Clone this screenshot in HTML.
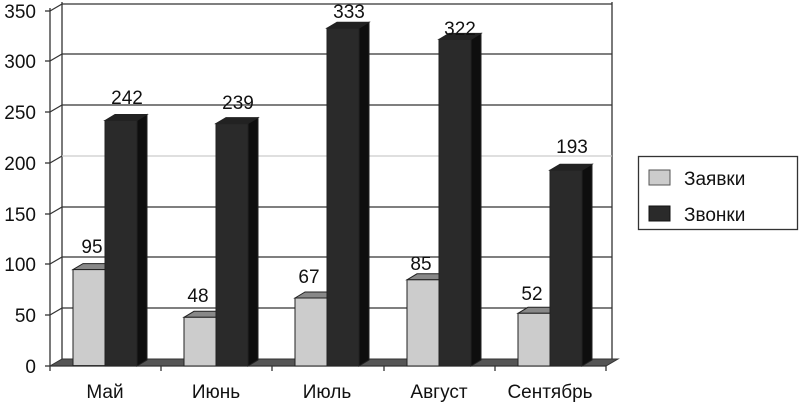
<!DOCTYPE html>
<html><head><meta charset="utf-8"><style>
html,body{margin:0;padding:0;background:#fff;}
svg{display:block;font-family:"Liberation Sans",Arial,sans-serif;}
</style></head><body>
<svg width="800" height="406" viewBox="0 0 800 406">
<g stroke="#333" stroke-width="1.3" fill="none">
<line x1="62" y1="2" x2="62" y2="359"/>
<line x1="612" y1="2" x2="612" y2="359"/>
<line x1="62" y1="4" x2="612" y2="4"/>
<line x1="62" y1="54" x2="612" y2="54"/>
<line x1="62" y1="105" x2="612" y2="105"/>
<line x1="62" y1="207" x2="612" y2="207"/>
<line x1="62" y1="257" x2="612" y2="257"/>
<line x1="62" y1="308" x2="612" y2="308"/>
<line x1="50" y1="11" x2="62" y2="4"/>
<line x1="50" y1="61" x2="62" y2="54"/>
<line x1="50" y1="112" x2="62" y2="105"/>
<line x1="50" y1="163" x2="62" y2="156"/>
<line x1="50" y1="214" x2="62" y2="207"/>
<line x1="50" y1="264" x2="62" y2="257"/>
<line x1="50" y1="315" x2="62" y2="308"/>
</g>
<line x1="62" y1="156" x2="612" y2="156" stroke="#ccc" stroke-width="1.3"/>
<polygon points="50,366 606,366 618,359 62,359" fill="#555" stroke="#333"/>
<g stroke="#333" stroke-width="1.3">
<line x1="50" y1="8" x2="50" y2="366"/>
<line x1="50" y1="366" x2="606" y2="366"/>
<line x1="45" y1="11" x2="50" y2="11"/><line x1="45" y1="61" x2="50" y2="61"/>
<line x1="45" y1="112" x2="50" y2="112"/><line x1="45" y1="163" x2="50" y2="163"/>
<line x1="45" y1="214" x2="50" y2="214"/><line x1="45" y1="264" x2="50" y2="264"/>
<line x1="45" y1="315" x2="50" y2="315"/><line x1="45" y1="366" x2="50" y2="366"/>
<line x1="50" y1="366" x2="50" y2="371"/><line x1="161" y1="366" x2="161" y2="371"/>
<line x1="272" y1="366" x2="272" y2="371"/><line x1="384" y1="366" x2="384" y2="371"/>
<line x1="495" y1="366" x2="495" y2="371"/><line x1="606" y1="366" x2="606" y2="371"/>
</g>
<g font-size="19" text-anchor="end" fill="#111">
<text x="36" y="18">350</text><text x="36" y="68">300</text><text x="36" y="119">250</text>
<text x="36" y="170">200</text><text x="36" y="221">150</text><text x="36" y="271">100</text>
<text x="36" y="322">50</text><text x="36" y="373">0</text>
</g>
<g stroke="#222" stroke-width="1">
<polygon points="73,269.6 83,263.6 115,263.6 105,269.6" fill="#888"/>
<rect x="73" y="269.6" width="32" height="96" fill="#ccc"/>
<polygon points="105,120.5 115,114.5 147,114.5 137,120.5" fill="#222"/>
<polygon points="137,120.5 147,114.5 147,360 137,366" fill="#0e0e0e"/>
<rect x="105" y="120.5" width="32" height="245.5" fill="#2a2a2a"/>
<polygon points="184,317.3 194,311.3 226,311.3 216,317.3" fill="#888"/>
<rect x="184" y="317.3" width="32" height="48.7" fill="#ccc"/>
<polygon points="216,123.6 226,117.6 258,117.6 248,123.6" fill="#222"/>
<polygon points="248,123.6 258,117.6 258,360 248,366" fill="#0e0e0e"/>
<rect x="216" y="123.6" width="32" height="242.4" fill="#2a2a2a"/>
<polygon points="295,298 305,292 337,292 327,298" fill="#888"/>
<rect x="295" y="298" width="32" height="68" fill="#ccc"/>
<polygon points="327,28.2 337,22.2 369,22.2 359,28.2" fill="#222"/>
<polygon points="359,28.2 369,22.2 369,360 359,366" fill="#0e0e0e"/>
<rect x="327" y="28.2" width="32" height="337.8" fill="#2a2a2a"/>
<polygon points="407,279.8 417,273.8 449,273.8 439,279.8" fill="#888"/>
<rect x="407" y="279.8" width="32" height="86.2" fill="#ccc"/>
<polygon points="439,39.4 449,33.4 481,33.4 471,39.4" fill="#222"/>
<polygon points="471,39.4 481,33.4 481,360 471,366" fill="#0e0e0e"/>
<rect x="439" y="39.4" width="32" height="326.6" fill="#2a2a2a"/>
<polygon points="518,313.3 528,307.3 560,307.3 550,313.3" fill="#888"/>
<rect x="518" y="313.3" width="32" height="52.7" fill="#ccc"/>
<polygon points="550,170.2 560,164.2 592,164.2 582,170.2" fill="#222"/>
<polygon points="582,170.2 592,164.2 592,360 582,366" fill="#0e0e0e"/>
<rect x="550" y="170.2" width="32" height="195.8" fill="#2a2a2a"/>
</g>
<g font-size="19" text-anchor="middle" fill="#111">
<text x="92" y="253">95</text><text x="127" y="104">242</text>
<text x="198" y="302">48</text><text x="238" y="109">239</text>
<text x="309" y="283">67</text><text x="349" y="18">333</text>
<text x="421" y="270">85</text><text x="460" y="35">322</text>
<text x="532" y="300">52</text><text x="572" y="153">193</text>
</g>
<g font-size="19" text-anchor="middle" fill="#111">
<text x="105" y="398">Май</text><text x="216" y="398">Июнь</text>
<text x="327" y="398">Июль</text><text x="439" y="398">Август</text>
<text x="550" y="398">Сентябрь</text>
</g>
<rect x="638.5" y="156.5" width="159" height="73" fill="#fff" stroke="#333" stroke-width="1.3"/>
<rect x="649" y="170" width="21" height="15" fill="#ccc" stroke="#555"/>
<rect x="649" y="206" width="21" height="15" fill="#2a2a2a" stroke="#111"/>
<g font-size="19" fill="#111">
<text x="684" y="185">Заявки</text>
<text x="684" y="221">Звонки</text>
</g>
</svg>
</body></html>
